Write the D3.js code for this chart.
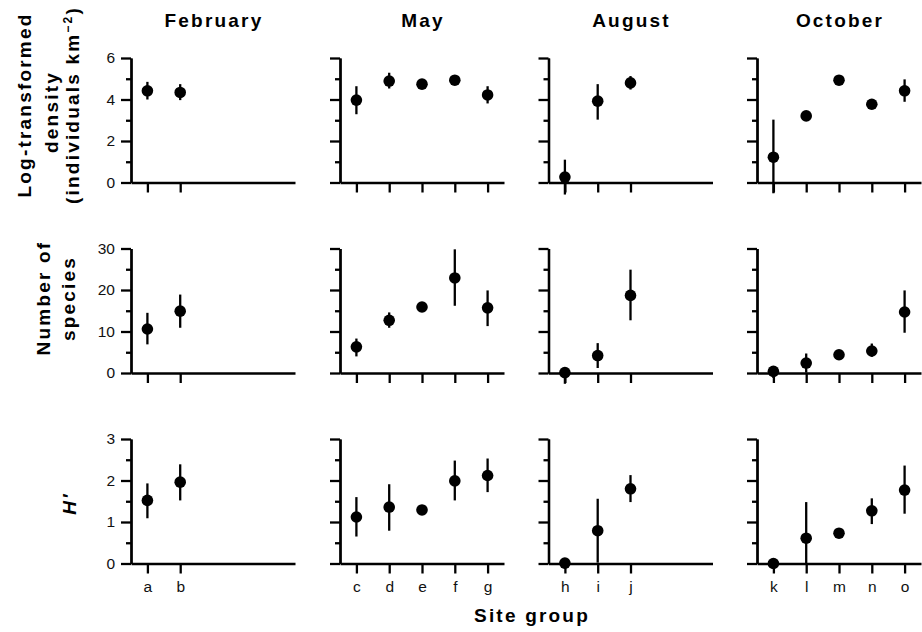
<!DOCTYPE html>
<html>
<head>
<meta charset="utf-8">
<script src="https://cdn.jsdelivr.net/npm/d3@7"></script>
<style>
  body { margin: 0; background: #fff; }
  svg { display: block; font-family: "Liberation Sans", Arial, sans-serif; }
  .axis path, .axis line { stroke: #000; stroke-width: 2.3; }
  .axis text { font-size: 15.5px; fill: #111; }
  .title { font-size: 19px; font-weight: bold; letter-spacing: 2.2px; }
  .ylab { font-size: 19px; font-weight: bold; letter-spacing: 2.2px; }
  .errbar { stroke: #000; stroke-width: 2.3; }
</style>
</head>
<body>
<svg id="chart" width="922" height="632"></svg>
<script>
"use strict";

// months (columns) and site groups in each
const months = ["February", "May", "August", "October"];
const sites = [
	["a", "b"],
	["c", "d", "e", "f", "g"],
	["h", "i", "j"],
	["k", "l", "m", "n", "o"]
];

// log-transformed density: mean, lower and upper end of error bar
const densityMean = [[4.42, 4.34], [3.97, 4.89, 4.74, 4.93, 4.22], [0.26, 3.92, 4.80], [1.22, 3.21, 4.93, 3.77, 4.42]];
const densityLow  = [[4.00, 3.97], [3.29, 4.53, 4.62, 4.74, 3.81], [-0.58, 3.03, 4.48], [-0.52, 3.10, 4.83, 3.67, 3.89]];
const densityHigh = [[4.85, 4.74], [4.64, 5.29, 4.86, 5.13, 4.64], [1.10, 4.74, 5.13], [3.03, 3.32, 5.03, 3.87, 4.97]];

// number of species
const speciesMean = [[10.6, 14.9], [6.3, 12.7, 15.9, 22.9, 15.7], [0.1, 4.2, 18.7], [0.4, 2.4, 4.4, 5.3, 14.7]];
const speciesLow  = [[6.9, 10.9], [4.0, 10.9, 15.3, 16.2, 11.3], [-2.6, 1.2, 12.7], [-1.2, 0.1, 3.8, 3.9, 9.7]];
const speciesHigh = [[14.5, 18.9], [8.3, 14.6, 16.5, 29.8, 19.9], [0.8, 7.2, 24.9], [1.6, 4.7, 5.0, 7.1, 19.9]];

// Shannon diversity H'
const hMean = [[1.52, 1.96], [1.12, 1.36, 1.29, 1.99, 2.12], [0.01, 0.79, 1.80], [0.00, 0.61, 0.73, 1.27, 1.77]];
const hLow  = [[1.09, 1.52], [0.65, 0.79, 1.24, 1.52, 1.72], [-0.12, 0.02, 1.48], [-0.12, 0.00, 0.65, 0.95, 1.20]];
const hHigh = [[1.93, 2.39], [1.60, 1.91, 1.34, 2.48, 2.53], [0.08, 1.56, 2.13], [0.05, 1.48, 0.81, 1.57, 2.36]];

const rows = [
	{ mean: densityMean, low: densityLow, high: densityHigh, max: 6, major: [0, 2, 4, 6], minor: [1, 3, 5] },
	{ mean: speciesMean, low: speciesLow, high: speciesHigh, max: 30, major: [0, 10, 20, 30], minor: [5, 15, 25] },
	{ mean: hMean, low: hLow, high: hHigh, max: 3, major: [0, 1, 2, 3], minor: [0.5, 1.5, 2.5] }
];

// layout
const panelX = [131, 340, 548.5, 757];
const panelW = 164;
const rowTop = [58, 248.5, 439];
const rowH = 124.5;
const dotR = 5.8;

const svg = d3.select("#chart");

const xscale = d3.scaleLinear().domain([-0.5, 4.5]).range([0, panelW]);

rows.forEach((row, r) => {
	const yscale = d3.scaleLinear().domain([0, row.max]).range([rowH, 0]);
	months.forEach((m, c) => {
		const g = svg.append("g")
			.attr("transform", `translate(${panelX[c]}, ${rowTop[r]})`);

		// x axis with site ticks (labels only on bottom row)
		const xaxis = d3.axisBottom(xscale)
			.tickValues(d3.range(sites[c].length))
			.tickFormat(i => r == 2 ? sites[c][i] : "")
			.tickSize(10)
			.tickSizeOuter(0)
			.tickPadding(7);
		g.append("g")
			.attr("class", "axis")
			.attr("transform", `translate(0, ${rowH})`)
			.call(xaxis);

		// y axis, minor ticks first
		g.append("g")
			.attr("class", "axis")
			.call(d3.axisLeft(yscale).tickValues(row.minor).tickSize(5).tickSizeOuter(0).tickFormat(""));
		g.append("g")
			.attr("class", "axis")
			.call(d3.axisLeft(yscale).tickValues(row.major).tickSize(10).tickSizeOuter(0)
				.tickPadding(6).tickFormat(c == 0 ? d3.format("d") : ""));

		const pts = sites[c].map((s, i) => ({
			i: i, mean: row.mean[c][i], low: row.low[c][i], high: row.high[c][i]
		}));

		g.selectAll(".errbar")
			.data(pts)
			.enter()
			.append("line")
			.classed("errbar", true)
			.attr("x1", d => xscale(d.i))
			.attr("x2", d => xscale(d.i))
			.attr("y1", d => yscale(d.low))
			.attr("y2", d => yscale(d.high));

		g.selectAll(".dot")
			.data(pts)
			.enter()
			.append("circle")
			.classed("dot", true)
			.attr("cx", d => xscale(d.i))
			.attr("cy", d => yscale(d.mean))
			.attr("r", dotR)
			.attr("fill", "#000");

		if (r == 0) {
			svg.append("text")
				.classed("title", true)
				.attr("x", panelX[c] + panelW / 2 + 1)
				.attr("y", 27)
				.attr("text-anchor", "middle")
				.text(m);
		}
	});
});

// y labels (rotated)
function ylabel(x, y, txt) {
	return svg.append("text")
		.classed("ylab", true)
		.attr("transform", `translate(${x}, ${y}) rotate(-90)`)
		.attr("text-anchor", "middle")
		.text(txt);
}
ylabel(31, 105, "Log-transformed");
ylabel(57.5, 112, "density");
const dens = ylabel(79, 105, "(individuals km");
dens.append("tspan").attr("font-size", "12px").attr("dy", -7).text("\u22122");
dens.append("tspan").attr("dy", 7).text(")");
ylabel(50, 298, "Number of");
ylabel(75, 298.5, "species");
ylabel(76, 503.5, "H\u2032").attr("font-style", "italic");

svg.append("text")
	.classed("title", true)
	.attr("x", 532)
	.attr("y", 622)
	.attr("text-anchor", "middle")
	.text("Site group");
</script>
</body>
</html>
